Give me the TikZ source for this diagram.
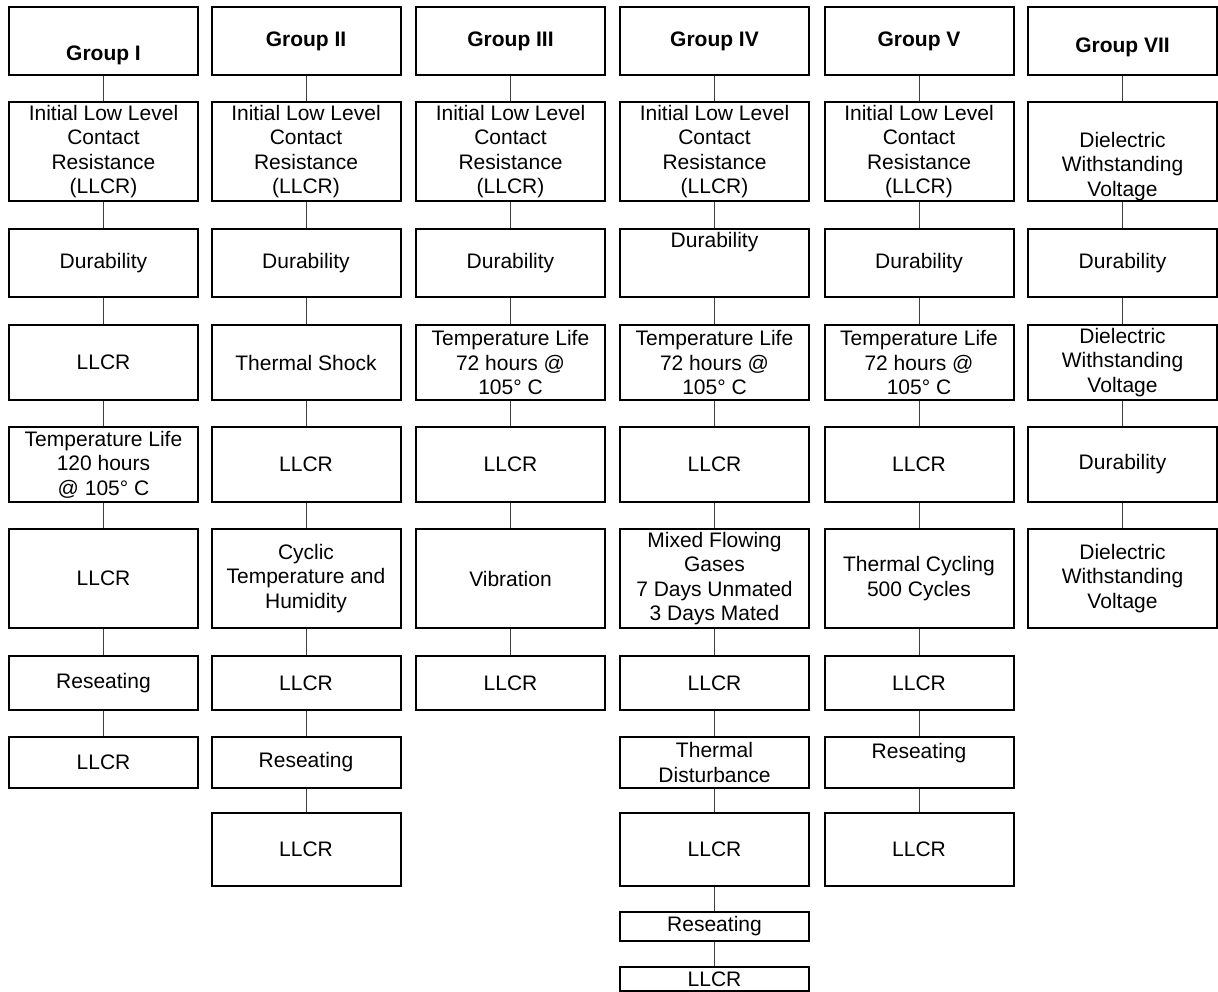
\documentclass[tikz,border=0pt]{standalone}
\usepackage{fontspec}
\setmainfont{Liberation Sans}

\begin{document}
\begin{tikzpicture}[x=1pt, y=-1pt,
  box/.style={draw, line width=2pt, minimum width=189pt, inner sep=0pt, align=center,
    font=\fontsize{21}{24.5}\selectfont},
  head/.style={box, minimum height=68pt, font=\fontsize{21}{24.5}\selectfont\bfseries},
  link/.style={line width=1pt, black!75}]
  \useasboundingbox (0,0) rectangle (1218,992);

  % Group I
  \node[head, text height=45pt, text depth=5pt] (g1) at (103.5,41) {Group I};
  \node[box, minimum height=99pt] (g1a) at (103.5,151.5) {Initial Low Level\\Contact\\Resistance\\(LLCR)};
  \node[box, minimum height=68pt] (g1b) at (103.5,263) {Durability};
  \node[box, minimum height=75pt] (g1c) at (103.5,362.5) {LLCR};
  \node[box, minimum height=75pt] (g1d) at (103.5,464.5) {Temperature Life\\120 hours\\@ 105° C};
  \node[box, minimum height=99pt] (g1e) at (103.5,578.5) {LLCR};
  \node[box, minimum height=54pt] (g1f) at (103.5,683) {Reseating};
  \node[box, minimum height=51pt] (g1g) at (103.5,762.5) {LLCR};
  \draw[link] (g1) -- (g1a) (g1a) -- (g1b) (g1b) -- (g1c) (g1c) -- (g1d)
    (g1d) -- (g1e) (g1e) -- (g1f) (g1f) -- (g1g);

  % Group II
  \node[head] (g2) at (306,41) {Group II};
  \node[box, minimum height=99pt] (g2a) at (306,151.5) {Initial Low Level\\Contact\\Resistance\\(LLCR)};
  \node[box, minimum height=68pt] (g2b) at (306,263) {Durability};
  \node[box, minimum height=75pt] (g2c) at (306,362.5) {Thermal Shock};
  \node[box, minimum height=75pt] (g2d) at (306,464.5) {LLCR};
  \node[box, minimum height=99pt] (g2e) at (306,578.5) {Cyclic\\Temperature and\\Humidity};
  \node[box, minimum height=54pt] (g2f) at (306,683) {LLCR};
  \node[box, minimum height=51pt] (g2g) at (306,762.5) {Reseating};
  \node[box, minimum height=73pt] (g2h) at (306,849.5) {LLCR};
  \draw[link] (g2) -- (g2a) (g2a) -- (g2b) (g2b) -- (g2c) (g2c) -- (g2d)
    (g2d) -- (g2e) (g2e) -- (g2f) (g2f) -- (g2g) (g2g) -- (g2h);

  % Group III
  \node[head] (g3) at (510.5,41) {Group III};
  \node[box, minimum height=99pt] (g3a) at (510.5,151.5) {Initial Low Level\\Contact\\Resistance\\(LLCR)};
  \node[box, minimum height=68pt] (g3b) at (510.5,263) {Durability};
  \node[box, minimum height=75pt] (g3c) at (510.5,362.5) {Temperature Life\\72 hours @\\105° C};
  \node[box, minimum height=75pt] (g3d) at (510.5,464.5) {LLCR};
  \node[box, minimum height=99pt] (g3e) at (510.5,578.5) {Vibration};
  \node[box, minimum height=54pt] (g3f) at (510.5,683) {LLCR};
  \draw[link] (g3) -- (g3a) (g3a) -- (g3b) (g3b) -- (g3c) (g3c) -- (g3d)
    (g3d) -- (g3e) (g3e) -- (g3f);

  % Group IV
  \node[head] (g4) at (714.5,41) {Group IV};
  \node[box, minimum height=99pt] (g4a) at (714.5,151.5) {Initial Low Level\\Contact\\Resistance\\(LLCR)};
  \node[box, minimum height=68pt, text height=15pt, text depth=45pt] (g4b) at (714.5,263) {Durability};
  \node[box, minimum height=75pt] (g4c) at (714.5,362.5) {Temperature Life\\72 hours @\\105° C};
  \node[box, minimum height=75pt] (g4d) at (714.5,464.5) {LLCR};
  \node[box, minimum height=99pt] (g4e) at (714.5,578.5) {Mixed Flowing\\Gases\\7 Days Unmated\\3 Days Mated};
  \node[box, minimum height=54pt] (g4f) at (714.5,683) {LLCR};
  \node[box, minimum height=51pt] (g4g) at (714.5,762.5) {Thermal\\Disturbance};
  \node[box, minimum height=73pt] (g4h) at (714.5,849.5) {LLCR};
  \node[box, minimum height=29pt] (g4i) at (714.5,926.5) {Reseating};
  \node[box, minimum height=24pt] (g4j) at (714.5,979) {LLCR};
  \draw[link] (g4) -- (g4a) (g4a) -- (g4b) (g4b) -- (g4c) (g4c) -- (g4d)
    (g4d) -- (g4e) (g4e) -- (g4f) (g4f) -- (g4g) (g4g) -- (g4h)
    (g4h) -- (g4i) (g4i) -- (g4j);

  % Group V
  \node[head] (g5) at (919,41) {Group V};
  \node[box, minimum height=99pt] (g5a) at (919,151.5) {Initial Low Level\\Contact\\Resistance\\(LLCR)};
  \node[box, minimum height=68pt] (g5b) at (919,263) {Durability};
  \node[box, minimum height=75pt] (g5c) at (919,362.5) {Temperature Life\\72 hours @\\105° C};
  \node[box, minimum height=75pt] (g5d) at (919,464.5) {LLCR};
  \node[box, minimum height=99pt] (g5e) at (919,578.5) {Thermal Cycling\\500 Cycles};
  \node[box, minimum height=54pt] (g5f) at (919,683) {LLCR};
  \node[box, minimum height=51pt, text height=15pt, text depth=24pt] (g5g) at (919,762.5) {Reseating};
  \node[box, minimum height=73pt] (g5h) at (919,849.5) {LLCR};
  \draw[link] (g5) -- (g5a) (g5a) -- (g5b) (g5b) -- (g5c) (g5c) -- (g5d)
    (g5d) -- (g5e) (g5e) -- (g5f) (g5f) -- (g5g) (g5g) -- (g5h);

  % Group VII
  \node[head, text height=29pt, text depth=5pt] (g7) at (1122.5,41) {Group VII};
  \node[box, minimum height=99pt] (g7a) at (1122.5,151.5) {\rule{0pt}{45pt}Dielectric\\Withstanding\\Voltage};
  \node[box, minimum height=68pt] (g7b) at (1122.5,263) {Durability};
  \node[box, minimum height=75pt] (g7c) at (1122.5,362.5) {Dielectric\\Withstanding\\Voltage};
  \node[box, minimum height=75pt] (g7d) at (1122.5,464.5) {Durability};
  \node[box, minimum height=99pt] (g7e) at (1122.5,578.5) {Dielectric\\Withstanding\\Voltage};
  \draw[link] (g7) -- (g7a) (g7a) -- (g7b) (g7b) -- (g7c) (g7c) -- (g7d)
    (g7d) -- (g7e);
\end{tikzpicture}
\end{document}
